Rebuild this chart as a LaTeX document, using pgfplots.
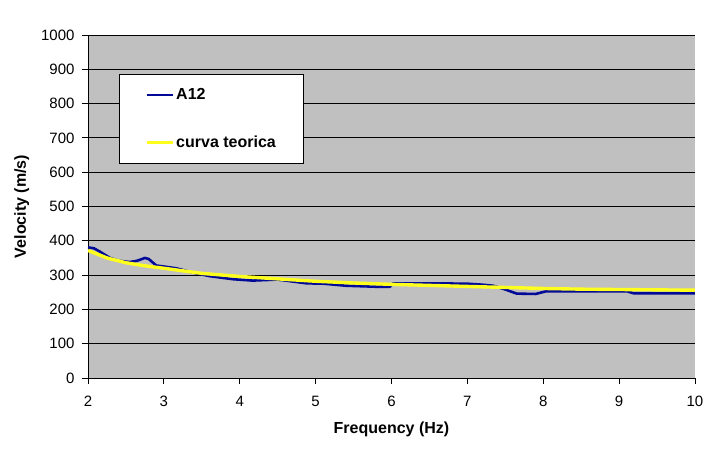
\documentclass[border=0pt]{standalone}
\usepackage{pgfplots}
\pgfplotsset{compat=1.18}
\usepackage{fontspec}
\setmainfont{Liberation Sans}
\definecolor{plotgray}{RGB}{192,192,192}
\definecolor{bluea}{RGB}{0,10,150}
\definecolor{yel}{RGB}{255,255,30}
\newcommand\tf{\fontsize{15bp}{18bp}\selectfont}
\newcommand\lf{\fontsize{16bp}{19bp}\selectfont}
\begin{document}
\begin{tikzpicture}
\path[use as bounding box] (-88bp,-73bp) rectangle (623bp,378bp);
\begin{axis}[
  at={(0,0)}, anchor=south west,
  scale only axis, width=607bp, height=343bp,
  xmin=2, xmax=10, ymin=0, ymax=1000,
  xtick={2,3,...,10}, ytick={0,100,...,1000},
  axis background/.style={fill=plotgray},
  ymajorgrids, major grid style={black, line width=0.8pt},
  separate axis lines,
  axis x line*=bottom, axis y line*=left,
  axis line style={-, black, line width=0.8pt},
  tick align=outside, tick pos=left,
  major tick length=6bp,
  tick style={black, line width=0.8pt},
  /pgf/number format/assume math mode=true,
  /pgf/number format/1000 sep={},
  ticklabel style={font=\tf},
  xticklabel style={yshift=-9bp},
  yticklabel style={xshift=-4bp},
  xlabel={\lf\bfseries Frequency (Hz)},
  ylabel={\lf\bfseries Velocity (m/s)},
  xlabel style={yshift=-8bp},
  ylabel style={yshift=5bp},
  legend cell align=left,
  legend style={at={(rel axis cs:0.051,0.886)}, anchor=north west,
    fill=white, draw=black, line width=0.8pt, font=\lf\bfseries,
    inner xsep=25.5bp, inner ysep=12bp, row sep=31bp},
  legend image code/.code={\draw[#1] (0bp,0bp) -- (26bp,0bp);},
]
\addplot[bluea, line width=2.6pt, line join=round] coordinates {
(2.0,381) (2.08,378) (2.16,368) (2.29,350) (2.4,342) (2.55,338) (2.65,342)
(2.75,350) (2.8,347) (2.9,328) (3.0,325) (3.16,320) (3.39,307) (3.6,297)
(3.91,288) (4.17,284) (4.5,287) (4.88,276) (5.1,275) (5.4,269) (5.8,266)
(5.98,266) (6.02,276) (6.5,276) (7.0,275) (7.2,272) (7.34,269) (7.5,258)
(7.65,246) (7.9,245) (8.04,253) (8.5,253) (9.1,253) (9.19,247) (10,247)
};
\addlegendentry{A12}
\addplot[yel, line width=3.4pt, line join=round] coordinates {
(2,372) (2.25,350) (2.5,336) (2.75,327) (3,320) (3.5,305) (4,296) (4.5,289)
(5,282) (5.5,277) (6,273) (6.5,270) (7,267) (7.5,264) (8,261) (8.5,259)
(9,258) (9.5,257) (10,256)
};
\addlegendentry{curva teorica}
\end{axis}
\end{tikzpicture}
\end{document}
